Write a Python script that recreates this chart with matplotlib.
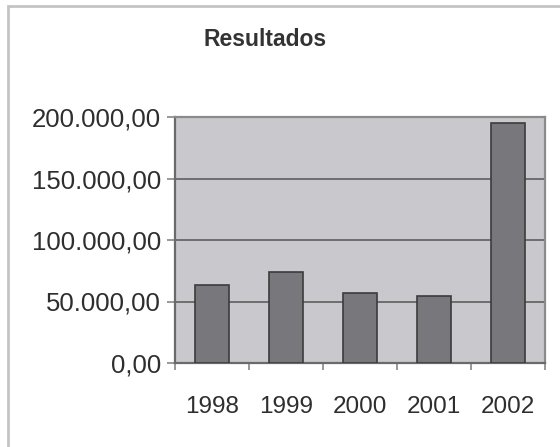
import numpy as np
import matplotlib.pyplot as plt
from matplotlib.patches import Rectangle

anos = ["1998", "1999", "2000", "2001", "2002"]
resultados = [63500, 74200, 56700, 54500, 194900]
yticks = [0, 50000, 100000, 150000, 200000]


def fmt_br(v):
    # 200000 -> 200.000,00
    s = f"{v:,.2f}"
    return s.replace(",", "#").replace(".", ",").replace("#", ".")


plt.rcParams['font.family'] = ['Liberation Sans', 'DejaVu Sans']

fig = plt.figure(figsize=(5.6, 4.47), dpi=100)
fig.patch.set_facecolor("white")

# moldura externa do grafico (corta nas bordas direita e de baixo)
fig.patches.append(Rectangle((8 / 560, -0.1), 1.2, 1 - 6 / 447 + 0.1,
                             transform=fig.transFigure, fill=False,
                             edgecolor="#c4c4c4", linewidth=2.0))

ax = fig.add_axes([175 / 560, 1 - 363 / 447, 370 / 560, 246 / 447])
ax.set_facecolor("#c9c9cd")

x = np.arange(len(anos))
ax.bar(x, resultados, width=0.45, color="#77777c", edgecolor="#3c3c3c",
       linewidth=1.2, zorder=3)

ax.set_xlim(-0.5, len(anos) - 0.5)
ax.set_ylim(0, 200000)
ax.set_yticks(yticks)
ax.set_yticklabels([fmt_br(v) for v in yticks])
ax.yaxis.grid(True, color="#6e6e6e", linewidth=1.4, zorder=1)

ax.set_xticks(x)
ax.set_xticklabels(anos)
ax.set_xticks(np.arange(-0.5, len(anos)), minor=True)
ax.tick_params(axis="x", which="major", length=0, pad=24, labelsize=17.5,
               colors="#2e2e2e")
ax.tick_params(axis="x", which="minor", length=5, color="#888888", width=1.2)
ax.tick_params(axis="y", length=6, color="#888888", width=1.2, pad=4,
               labelsize=18.5, labelcolor="#2e2e2e")

for side in ["top", "right"]:
    ax.spines[side].set_color("#8a8a8a")
    ax.spines[side].set_linewidth(1.6)
for side in ["left", "bottom"]:
    ax.spines[side].set_color("#6a6a6a")
    ax.spines[side].set_linewidth(1.6)

fig.text(265 / 560, 1 - 40 / 447, "Resultados", ha="center", va="center",
         fontsize=16.5, fontweight="bold", color="#333333")

fig.savefig("out.png", dpi=100)
